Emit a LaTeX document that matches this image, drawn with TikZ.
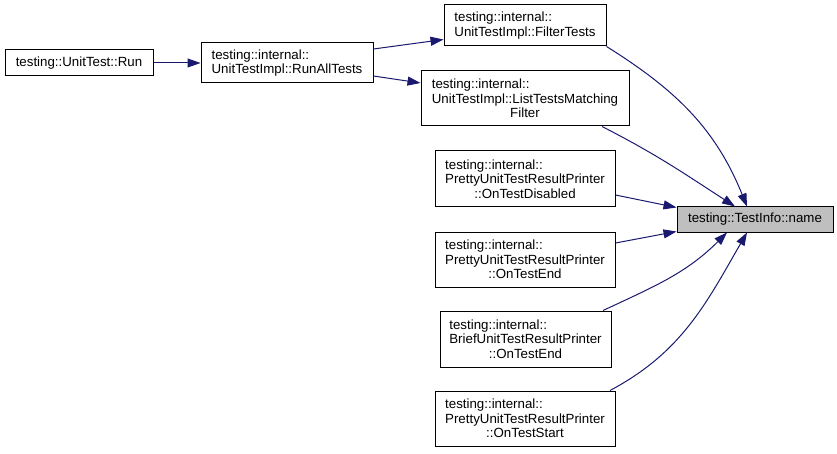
\documentclass[tikz,border=0pt]{standalone}
\usepackage{fontspec}
\setmainfont{Liberation Sans}
\usepackage{calc}
\usetikzlibrary{arrows.meta}
\definecolor{edgeblue}{HTML}{191970}
\definecolor{focusgray}{HTML}{BFBFBF}
% first line of a label: left-aligned to the width of the widest line
\newcommand{\headrow}[2]{\makebox[\widthof{#2}][l]{#1}}
\tikzset{
  fn/.style={draw=black, line width=1pt, fill=white, inner sep=2pt, align=center,
    font=\fontsize{13.3}{14.5}\selectfont},
  focus/.style={fn, fill=focusgray},
  call/.style={draw=edgeblue, line width=1pt, -{Triangle[length=13pt,width=9pt,fill=edgeblue]}},
}
\begin{document}
\begin{tikzpicture}[x=1pt,y=1pt]
\useasboundingbox (0,0) rectangle (837,453);

\node[fn, minimum width=148pt, minimum height=26pt] (run) at (79,390)
  {testing::UnitTest::Run};
\node[fn, minimum width=172pt, minimum height=40pt] (runall) at (287,390)
  {\headrow{testing::internal::}{UnitTestImpl::RunAllTests}\\UnitTestImpl::RunAllTests};
\node[fn, minimum width=162pt, minimum height=41pt] (filter) at (525,427.5)
  {\headrow{testing::internal::}{UnitTestImpl::FilterTests}\\UnitTestImpl::FilterTests};
\node[fn, minimum width=208pt, minimum height=55pt] (list) at (525,354.5)
  {\headrow{testing::internal::}{UnitTestImpl::ListTestsMatching}\\UnitTestImpl::ListTestsMatching\\Filter};
\node[focus, minimum width=156pt, minimum height=25pt] (name) at (755,233.5)
  {testing::TestInfo::name};
\node[fn, minimum width=180pt, minimum height=56pt] (disabled) at (525,274)
  {\headrow{testing::internal::}{PrettyUnitTestResultPrinter}\\PrettyUnitTestResultPrinter\\::OnTestDisabled};
\node[fn, minimum width=180pt, minimum height=55pt] (pend) at (525,193.5)
  {\headrow{testing::internal::}{PrettyUnitTestResultPrinter}\\PrettyUnitTestResultPrinter\\::OnTestEnd};
\node[fn, minimum width=171pt, minimum height=56pt] (bend) at (525.5,114)
  {\headrow{testing::internal::}{BriefUnitTestResultPrinter}\\BriefUnitTestResultPrinter\\::OnTestEnd};
\node[fn, minimum width=180pt, minimum height=55pt] (start) at (525,34.5)
  {\headrow{testing::internal::}{PrettyUnitTestResultPrinter}\\PrettyUnitTestResultPrinter\\::OnTestStart};

% call edges
\draw[call] (run) -- (runall);
\draw[call] ([yshift=14pt]runall.east) -- ([yshift=-14pt]filter.west);
\draw[call] ([yshift=-13pt]runall.east) -- ([yshift=15.5pt]list.west);
\draw[call] (filter.south east) to[out=-32,in=112] ([xshift=-8pt]name.north);
\draw[call] ([xshift=77pt]list.south) to[out=-27,in=147] ([xshift=-20pt]name.north);
\draw[call] ([yshift=-16pt]disabled.east) -- ([yshift=-1pt]name.north west);
\draw[call] ([yshift=16.5pt]pend.east) -- ([yshift=1pt]name.south west);
\draw[call] ([xshift=77.5pt]bend.north) to[out=25,in=-135] ([xshift=-28pt]name.south);
\draw[call] ([xshift=85pt]start.north) to[out=28,in=-120] ([xshift=-8pt]name.south);
\end{tikzpicture}
\end{document}
